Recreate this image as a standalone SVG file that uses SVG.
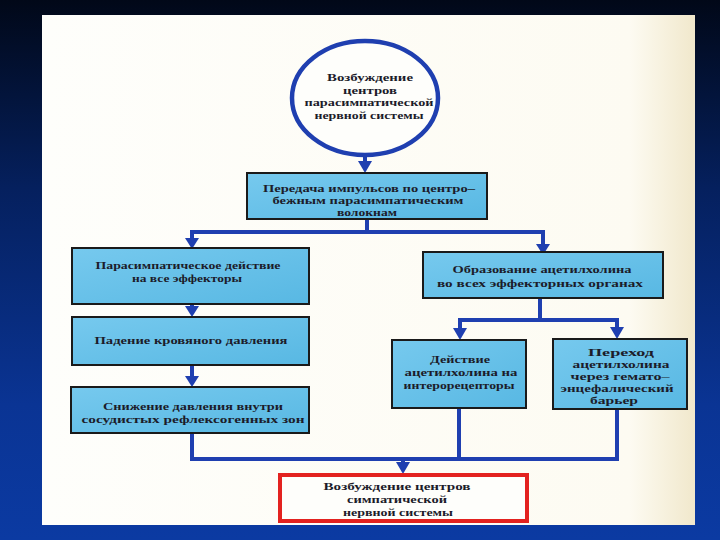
<svg xmlns="http://www.w3.org/2000/svg" width="720" height="540" viewBox="0 0 720 540">
  <defs>
    <linearGradient id="bg" x1="0" y1="0" x2="0" y2="1">
      <stop offset="0" stop-color="#010818"/>
      <stop offset="0.35" stop-color="#05205e"/>
      <stop offset="0.75" stop-color="#0a3494"/>
      <stop offset="1" stop-color="#0b3aa2"/>
    </linearGradient>
    <linearGradient id="paper" x1="0" y1="0" x2="1" y2="0">
      <stop offset="0" stop-color="#fefefb"/>
      <stop offset="0.9" stop-color="#fdfbf2"/>
      <stop offset="1" stop-color="#f1e8cc"/>
    </linearGradient>
    <linearGradient id="boxfill" x1="0" y1="0" x2="1" y2="1">
      <stop offset="0" stop-color="#76c9ee"/>
      <stop offset="1" stop-color="#58b8e3"/>
    </linearGradient>
    <style>
      .box { fill: url(#boxfill); stroke: #1a1a1a; stroke-width: 2; }
      .con { fill: none; stroke: #1f3fb0; stroke-width: 4; }
      .arrow { fill: #1f3fb0; }
      text { font-family: "Liberation Serif", "DejaVu Serif", serif; font-weight: bold; font-size: 10.5px; fill: #1c1c2a; text-anchor: middle; }
      .sm { font-size: 9.5px; }
    </style>
  </defs>

  <rect x="0" y="0" width="720" height="540" fill="url(#bg)"/>
  <rect x="42" y="15" width="653" height="510" fill="url(#paper)"/>

  <g id="connectors">
    <line class="con" x1="365" y1="155" x2="365" y2="162"/>
    <polygon class="arrow" points="358,161 372,161 365,173"/>
    <polyline class="con" points="367,219 367,232"/>
    <polyline class="con" points="192,246 192,232 543,232 543,246"/>
    <polygon class="arrow" points="185,238 199,238 192,249"/>
    <polygon class="arrow" points="536,244 550,244 543,255"/>
    <line class="con" x1="192" y1="304" x2="192" y2="308"/>
    <polygon class="arrow" points="185,306 199,306 192,317"/>
    <line class="con" x1="192" y1="365" x2="192" y2="378"/>
    <polygon class="arrow" points="185,376 199,376 192,387"/>
    <polyline class="con" points="540,298 540,320"/>
    <polyline class="con" points="460,330 460,320 617,320 617,330"/>
    <polygon class="arrow" points="453,328 467,328 460,340"/>
    <polygon class="arrow" points="610,327 624,327 617,339"/>
    <polyline class="con" points="192,433 192,459 617,459 617,408"/>
    <line class="con" x1="459" y1="408" x2="459" y2="459"/>
    <line class="con" x1="403" y1="459" x2="403" y2="464"/>
    <polygon class="arrow" points="396,462 410,462 403,474"/>
  </g>

  <g id="n_center">
    <ellipse cx="365" cy="98" rx="73" ry="57" fill="#fefefb" stroke="#1f3fb0" stroke-width="4.5"/>
    <text x="370" y="81" textLength="86" lengthAdjust="spacingAndGlyphs">Возбуждение</text>
    <text x="370" y="93.5" textLength="54" lengthAdjust="spacingAndGlyphs">центров</text>
    <text x="369" y="106" textLength="129" lengthAdjust="spacingAndGlyphs">парасимпатической</text>
    <text x="369" y="118.5" textLength="109" lengthAdjust="spacingAndGlyphs">нервной системы</text>
  </g>

  <g id="n_transmit">
    <rect class="box" x="247" y="173" width="240" height="46"/>
    <text x="369" y="192" textLength="212" lengthAdjust="spacingAndGlyphs">Передача импульсов по центро–</text>
    <text x="368" y="204" textLength="191" lengthAdjust="spacingAndGlyphs">бежным  парасимпатическим</text>
    <text class="sm" x="367" y="216" textLength="60" lengthAdjust="spacingAndGlyphs">волокнам</text>
  </g>

  <g id="n_action">
    <rect class="box" x="72" y="248" width="237" height="56"/>
    <text x="188" y="269" textLength="185" lengthAdjust="spacingAndGlyphs">Парасимпатическое действие</text>
    <text x="187" y="282" textLength="110" lengthAdjust="spacingAndGlyphs">на все эффекторы</text>
  </g>

  <g id="n_pressure">
    <rect class="box" x="72" y="317" width="237" height="48"/>
    <text x="191" y="344" textLength="193" lengthAdjust="spacingAndGlyphs">Падение кровяного давления</text>
  </g>

  <g id="n_reduce">
    <rect class="box" x="71" y="387" width="238" height="46"/>
    <text x="193" y="410" textLength="180" lengthAdjust="spacingAndGlyphs">Снижение давления внутри</text>
    <text x="193" y="423" textLength="223" lengthAdjust="spacingAndGlyphs">сосудистых рефлексогенных зон</text>
  </g>

  <g id="n_formation">
    <rect class="box" x="423" y="252" width="240" height="46"/>
    <text x="542" y="273" textLength="179" lengthAdjust="spacingAndGlyphs">Образование ацетилхолина</text>
    <text x="540" y="287" textLength="206" lengthAdjust="spacingAndGlyphs">во всех  эффекторных органах</text>
  </g>

  <g id="n_intero">
    <rect class="box" x="392" y="340" width="134" height="68"/>
    <text x="460" y="363" textLength="60" lengthAdjust="spacingAndGlyphs">Действие</text>
    <text x="461" y="376" textLength="113" lengthAdjust="spacingAndGlyphs">ацетилхолина на</text>
    <text x="459" y="389" textLength="111" lengthAdjust="spacingAndGlyphs">интерорецепторы</text>
  </g>

  <g id="n_barrier">
    <rect class="box" x="553" y="339" width="134" height="70"/>
    <text class="sm" x="621" y="356" textLength="66" lengthAdjust="spacingAndGlyphs">Переход</text>
    <text class="sm" x="621" y="368" textLength="97" lengthAdjust="spacingAndGlyphs">ацетилхолина</text>
    <text class="sm" x="620" y="380" textLength="99" lengthAdjust="spacingAndGlyphs">через  гемато–</text>
    <text class="sm" x="617" y="392" textLength="113" lengthAdjust="spacingAndGlyphs">энцефалический</text>
    <text class="sm" x="614" y="404" textLength="48" lengthAdjust="spacingAndGlyphs">барьер</text>
  </g>

  <g id="n_sympathetic">
    <rect x="280" y="475" width="247" height="46" fill="#fefefb" stroke="#e3221f" stroke-width="4"/>
    <text x="397" y="490" textLength="147" lengthAdjust="spacingAndGlyphs">Возбуждение центров</text>
    <text x="397" y="503" textLength="100" lengthAdjust="spacingAndGlyphs">симпатической</text>
    <text x="398" y="516" textLength="110" lengthAdjust="spacingAndGlyphs">нервной системы</text>
  </g>
</svg>
